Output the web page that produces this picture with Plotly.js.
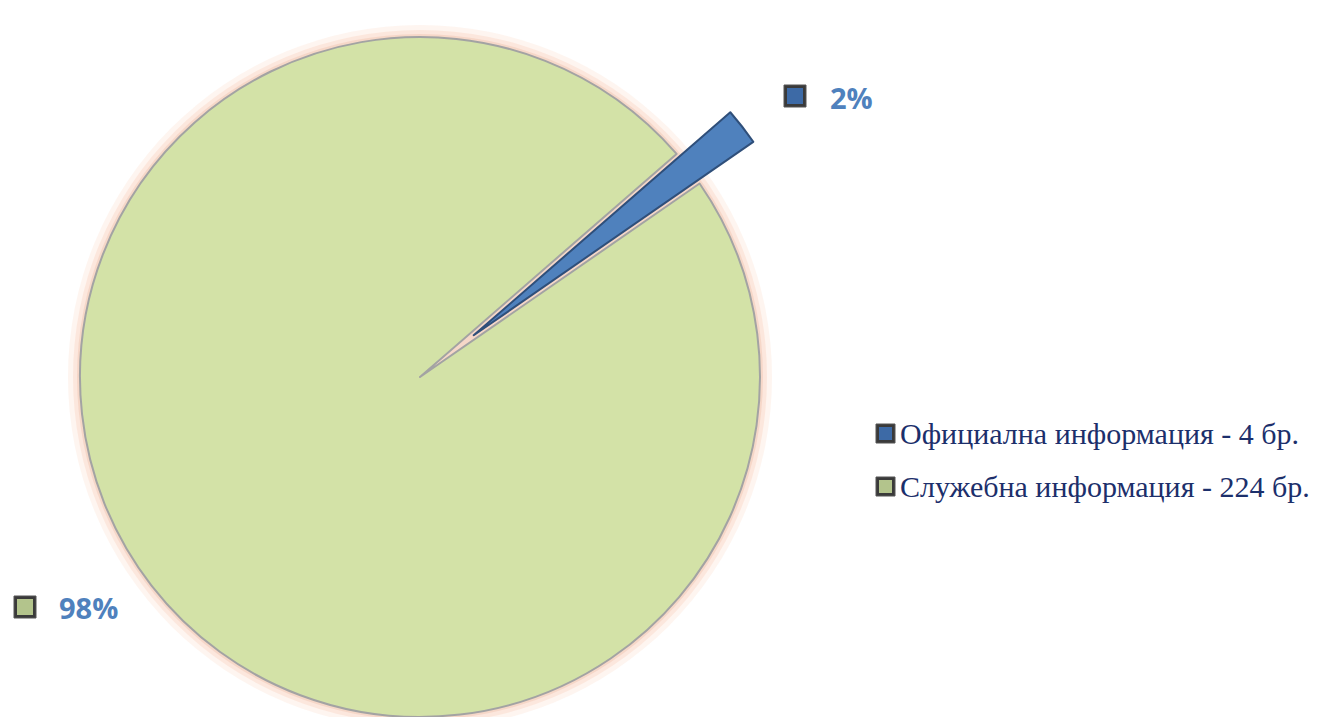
<!DOCTYPE html>
<html>
<head>
<meta charset="utf-8">
<script src="https://cdn.plot.ly/plotly-3.0.1.min.js"></script>
<style>
html,body{margin:0;padding:0;overflow:hidden;background:#fff;}
#chart{width:1343px;height:816px;margin-top:-31px;}
</style>
</head>
<body>
<div id="chart"></div>
<script>
// Data
const categories = ['Официална информация', 'Служебна информация'];
const values = [4, 224];
const unit = 'бр.';
const sliceColors = ['#4f81bd', '#d3e2a7'];
const markerColors = ['#3d6aa6', '#b3c48c'];

// Layout helpers (screen pixel -> paper), div shifted up by OFF px
const W = 1343, H = 816, OFF = 31;
const px = x => x / W;
const py = y => 1 - (y + OFF) / H;

const total = values.reduce((a, b) => a + b, 0);
const pct = values.map(v => Math.round(v / total * 100) + '%');

const PULL = 0.2;
const trace = {
  type: 'pie',
  labels: categories,
  values: values,
  sort: false,
  direction: 'clockwise',
  rotation: 49,
  pull: [PULL, 0],
  textinfo: 'none',
  hoverinfo: 'label+value+percent',
  marker: {
    colors: sliceColors,
    line: {color: ['#2f4f7a', '#a3a3a3'], width: 2}
  },
  domain: {x: [0, 840 / W], y: [0, 1]},
  showlegend: false
};

// Pie geometry used only for decoration placement
const cx = 420, cy = H / 2 - OFF, r = (H / 2) / (1 + PULL);

const shapes = [];
[[12, 'rgba(250,215,195,0.25)'], [7, 'rgba(248,205,185,0.35)'], [3, 'rgba(240,195,175,0.45)']].forEach(([d, c]) => {
  shapes.push({type: 'circle', xref: 'paper', yref: 'paper', layer: 'below',
    x0: px(cx - r - d), x1: px(cx + r + d), y0: py(cy + r + d), y1: py(cy - r - d),
    fillcolor: c, line: {width: 0}});
});

function bevelSquare(x, y, s, color) {
  shapes.push({type: 'rect', xref: 'paper', yref: 'paper',
    x0: px(x), x1: px(x + s), y0: py(y + s), y1: py(y),
    fillcolor: '#3a3a3a', line: {color: '#555', width: 1}});
  shapes.push({type: 'rect', xref: 'paper', yref: 'paper',
    x0: px(x + 3), x1: px(x + s - 3), y0: py(y + s - 3), y1: py(y + 3),
    fillcolor: color, line: {width: 0}});
}

bevelSquare(784, 85, 22, markerColors[0]);
bevelSquare(14, 596, 22, markerColors[1]);
bevelSquare(876, 424, 19, markerColors[0]);
bevelSquare(876, 477, 19, markerColors[1]);

const annotations = [
  {text: pct[0], x: px(828), y: py(97), xanchor: 'left', yanchor: 'middle'},
  {text: pct[1], x: px(57), y: py(607), xanchor: 'left', yanchor: 'middle'}
].map(a => Object.assign(a, {
  xref: 'paper', yref: 'paper', showarrow: false,
  font: {family: 'Open Sans, sans-serif', size: 29, color: '#4f81bd', weight: 'bold'}
}));

categories.forEach((c, i) => {
  annotations.push({
    text: c + ' - ' + values[i] + ' ' + unit,
    xref: 'paper', yref: 'paper', showarrow: false,
    x: px(898), y: py(i === 0 ? 433 : 486), xanchor: 'left', yanchor: 'middle',
    font: {family: 'Liberation Serif, Times New Roman, serif', size: 30, color: '#1c2f6b'}
  });
});

const layout = {
  width: W, height: H,
  margin: {l: 0, r: 0, t: 0, b: 0},
  paper_bgcolor: '#ffffff',
  showlegend: false,
  shapes: shapes,
  annotations: annotations
};

Plotly.newPlot('chart', [trace], layout, {displayModeBar: false, staticPlot: true});
</script>
</body>
</html>
